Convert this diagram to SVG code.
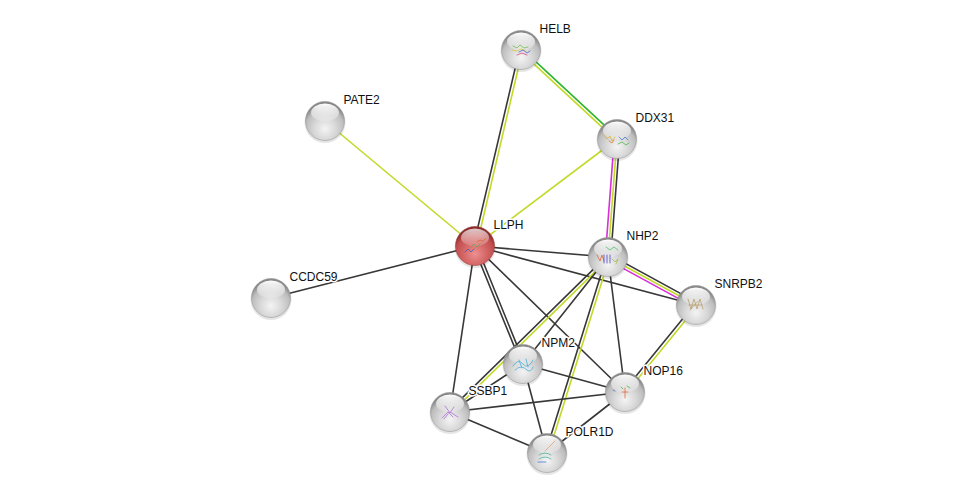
<svg xmlns="http://www.w3.org/2000/svg" xmlns:xlink="http://www.w3.org/1999/xlink" width="975" height="499" viewBox="0 0 975 499">
<style>
.e line{stroke-width:1.6;fill:none;stroke-linecap:round}
.k{stroke:#383838}
.y{stroke:#c3d928}
.g{stroke:#2db52d}
.m{stroke:#d82ed8}
.lbl{font-family:"Liberation Sans",Arial,sans-serif;font-size:12px;fill:#111;stroke:#fff;stroke-width:3;stroke-linejoin:round;paint-order:stroke}
.sq{fill:none;stroke-width:0.8;stroke-linecap:round}
</style>
<defs>
<radialGradient id="gw" cx="50%" cy="70%" r="62%">
<stop offset="0" stop-color="#f4f4f4"/>
<stop offset="0.45" stop-color="#d8d8d8"/>
<stop offset="0.8" stop-color="#bdbdbd"/>
<stop offset="1" stop-color="#878787"/>
</radialGradient>
<radialGradient id="gr" cx="50%" cy="70%" r="62%">
<stop offset="0" stop-color="#ec9090"/>
<stop offset="0.45" stop-color="#d66868"/>
<stop offset="0.8" stop-color="#c24e4e"/>
<stop offset="1" stop-color="#8a2a2a"/>
</radialGradient>
<linearGradient id="hl" x1="0" y1="0" x2="0" y2="1">
<stop offset="0" stop-color="#fff" stop-opacity="1"/>
<stop offset="1" stop-color="#fff" stop-opacity="0.15"/>
</linearGradient>
<g id="ballw">
<circle cx="0" cy="1.5" r="20.5" fill="#000" opacity="0.1"/>
<circle cx="0" cy="0" r="19.5" fill="url(#gw)" stroke="#9a9a9a" stroke-width="0.6"/>
<ellipse cx="0" cy="-8.5" rx="14" ry="9" fill="url(#hl)"/>
</g>
<g id="ballr">
<circle cx="0" cy="1.5" r="20.5" fill="#000" opacity="0.1"/>
<circle cx="0" cy="0" r="19.5" fill="url(#gr)" stroke="#a04040" stroke-width="0.6"/>
<ellipse cx="0" cy="-8.5" rx="14" ry="9" fill="url(#hl)" opacity="0.75"/>
</g>
</defs>
<rect width="975" height="499" fill="#fff"/>
<g id="edges" class="e">
<line class="k" x1="473.5" y1="245.7" x2="519.5" y2="49.7"/>
<line class="y" x1="476.5" y1="246.3" x2="522.5" y2="50.3"/>
<line class="g" x1="522" y1="48.9" x2="618" y2="137.9"/>
<line class="y" x1="520" y1="51.1" x2="616" y2="140.1"/>
<line class="y" x1="475" y1="246" x2="325" y2="121"/>
<line class="y" x1="475" y1="246" x2="617" y2="139"/>
<line class="k" x1="475" y1="246" x2="271" y2="298"/>
<line class="m" x1="614.3" y1="138.8" x2="605.3" y2="256.8"/>
<line class="y" x1="617" y1="139" x2="608" y2="257"/>
<line class="k" x1="619.7" y1="139.2" x2="610.7" y2="257.2"/>
<line class="k" x1="475" y1="246" x2="608" y2="257"/>
<line class="k" x1="475" y1="246" x2="696" y2="305"/>
<line class="k" x1="609.3" y1="254.6" x2="697.3" y2="302.6"/>
<line class="y" x1="608" y1="257" x2="696" y2="305"/>
<line class="m" x1="606.7" y1="259.4" x2="694.7" y2="307.4"/>
<line class="k" x1="476.4" y1="245.4" x2="524.4" y2="363.4"/>
<line class="k" x1="473.6" y1="246.6" x2="521.6" y2="364.6"/>
<line class="k" x1="475" y1="246" x2="450" y2="412"/>
<line class="k" x1="475" y1="246" x2="625" y2="392"/>
<line class="k" x1="607" y1="255.9" x2="449" y2="410.9"/>
<line class="y" x1="609" y1="258.1" x2="451" y2="413.1"/>
<line class="k" x1="606.6" y1="256.6" x2="545.6" y2="452.6"/>
<line class="y" x1="609.4" y1="257.4" x2="548.4" y2="453.4"/>
<line class="k" x1="608" y1="257" x2="523" y2="364"/>
<line class="k" x1="608" y1="257" x2="625" y2="392"/>
<line class="k" x1="694.8" y1="304" x2="623.8" y2="391"/>
<line class="y" x1="697.2" y1="306" x2="626.2" y2="393"/>
<line class="k" x1="523" y1="364" x2="625" y2="392"/>
<line class="k" x1="523" y1="364" x2="547" y2="453"/>
<line class="k" x1="523" y1="364" x2="450" y2="412"/>
<line class="k" x1="450" y1="412" x2="625" y2="392"/>
<line class="k" x1="450" y1="412" x2="547" y2="453"/>
<line class="k" x1="625" y1="392" x2="547" y2="453"/>
</g>
<g id="node-PATE2" transform="translate(325,121)">
<use href="#ballw"/>
<text class="lbl" x="18.5" y="-17.5">PATE2</text>
</g>
<g id="node-CCDC59" transform="translate(271,298)">
<use href="#ballw"/>
<text class="lbl" x="18.5" y="-17.5">CCDC59</text>
</g>
<g id="node-HELB" transform="translate(521,50)">
<use href="#ballw"/>
<path class="sq" stroke="#6cc04a" d="M-8,-4 l4,2 l3,-3 l4,3 l4,-1"/>
<path class="sq" stroke="#d9c93a" d="M-9,0 l5,1 l4,-2 l5,2"/>
<path class="sq" stroke="#4a62d8" d="M-2,2 l4,-2 l4,3 l3,-2"/>
<path class="sq" stroke="#d84a7a" d="M-4,5 l5,-2 l5,2"/>
<text class="lbl" x="18.5" y="-17.5">HELB</text>
</g>
<g id="node-DDX31" transform="translate(617,139)">
<use href="#ballw"/>
<path class="sq" stroke="#d8b43a" d="M-13,-4 l3,4 l3,-3 l2,5 l3,-4"/>
<path class="sq" stroke="#e07a3a" d="M-8,2 l3,2 l2,-3"/>
<path class="sq" stroke="#4a7ad8" d="M2,-2 l3,3 l3,-3 l3,3"/>
<path class="sq" stroke="#4ab84a" d="M1,5 l4,-2 l4,3 l3,-2"/>
<text class="lbl" x="18.5" y="-17.5">DDX31</text>
</g>
<g id="node-LLPH" transform="translate(475,246)">
<use href="#ballr"/>
<path class="sq" stroke="#3a5ab8" d="M-10,6 l3,-3 l3,3 l3,-3"/>
<path class="sq" stroke="#5aa84a" d="M-4,1 l3,-3 l3,3 l3,-3"/>
<path class="sq" stroke="#e06a2a" d="M2,-4 l3,-2 l3,1 l3,-3"/>
<text class="lbl" x="18.5" y="-17.5">LLPH</text>
</g>
<g id="node-NHP2" transform="translate(608,257)">
<use href="#ballw"/>
<path class="sq" stroke="#e06a3a" d="M-11,-2 l3,6 l2,-6 l2,6"/>
<path class="sq" stroke="#4a4ad0" d="M-4,-2 v8 M-1,-2 v8 M2,-2 v8"/>
<path class="sq" stroke="#4ac06a" d="M-2,-10 l4,3 l4,-3 l4,3"/>
<path class="sq" stroke="#a8b84a" d="M4,2 l3,3 l3,-3 l-2,5"/>
<text class="lbl" x="18.5" y="-17.5">NHP2</text>
</g>
<g id="node-SNRPB2" transform="translate(696,305)">
<use href="#ballw"/>
<path class="sq" stroke="#b8a070" d="M-8,-6 l3,10 l3,-10 l3,10 l3,-10 l3,10 M-7,0 h13 M-6,5 l8,-9"/>
<text class="lbl" x="18.5" y="-17.5">SNRPB2</text>
</g>
<g id="node-NPM2" transform="translate(523,364)">
<use href="#ballw"/>
<path class="sq" stroke="#4ab0d8" d="M-10,2 q5,-8 10,-2 q5,6 10,-4 M-8,6 q6,-6 12,0 q4,3 6,-3 M-4,-4 l3,8 M3,-5 l2,8"/>
<text class="lbl" x="18.5" y="-17.5">NPM2</text>
</g>
<g id="node-NOP16" transform="translate(625,392)">
<use href="#ballw"/>
<path class="sq" stroke="#e06a3a" d="M0,-4 v10 M-3,0 h6"/>
<path class="sq" stroke="#4ab84a" d="M2,-6 l3,2 M-4,-5 l2,2"/>
<path class="sq" stroke="#4a7ad8" d="M-12,-2 l2,1"/>
<text class="lbl" x="18.5" y="-17.5">NOP16</text>
</g>
<g id="node-SSBP1" transform="translate(450,412)">
<use href="#ballw"/>
<path class="sq" stroke="#b070d8" d="M-8,6 l6,-6 l5,5 M-5,-6 l5,7 l4,-6 M-2,2 l-4,5 M0,0 l8,5"/>
<text class="lbl" x="18.5" y="-17.5">SSBP1</text>
</g>
<g id="node-POLR1D" transform="translate(547,453)">
<use href="#ballw"/>
<path class="sq" stroke="#e0a070" d="M-2,-2 l10,-10"/>
<path class="sq" stroke="#4ab8a0" d="M-8,2 q6,-4 12,0 M-8,6 q6,-4 12,0"/>
<path class="sq" stroke="#4a7ad8" d="M-9,9 h8"/>
<text class="lbl" x="18.5" y="-17.5">POLR1D</text>
</g>
</svg>
